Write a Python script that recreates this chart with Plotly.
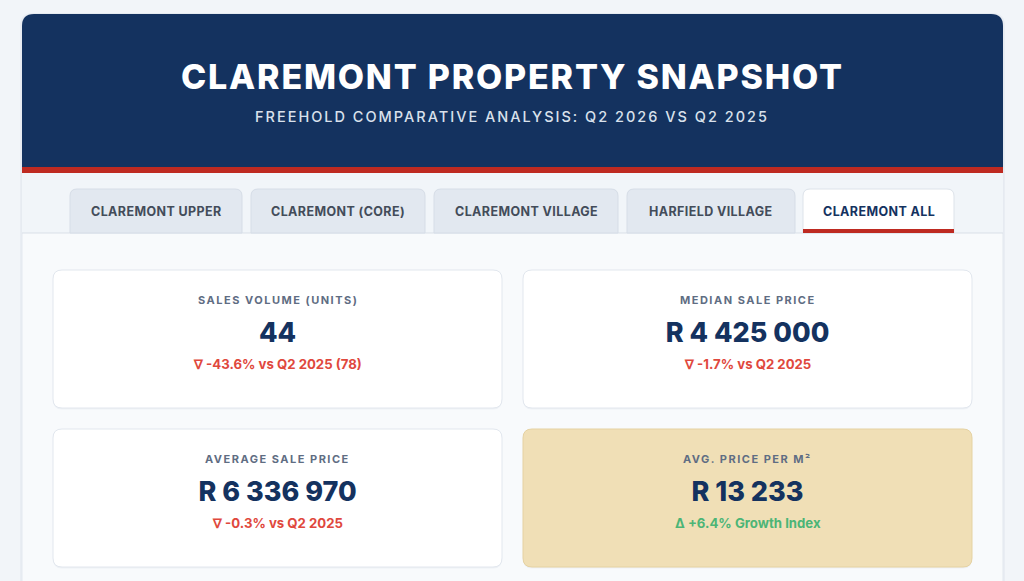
import plotly.graph_objects as go

# --- data ---
title = "CLAREMONT PROPERTY SNAPSHOT"
subtitle = "FREEHOLD COMPARATIVE ANALYSIS: Q2 2026 VS Q2 2025"
tabs = ["CLAREMONT UPPER", "CLAREMONT (CORE)", "CLAREMONT VILLAGE", "HARFIELD VILLAGE", "CLAREMONT ALL"]
active_tab = "CLAREMONT ALL"

kpi_labels = ["SALES VOLUME (UNITS)", "MEDIAN SALE PRICE", "AVERAGE SALE PRICE", "AVG. PRICE PER M²"]
kpi_values = [44, 4425000, 6336970, 13233]
kpi_prefix = ["", "R ", "R ", "R "]
kpi_change_pct = [-43.6, -1.7, -0.3, 6.4]
kpi_change_note = ["vs Q2 2025 (78)", "vs Q2 2025", "vs Q2 2025", "Growth Index"]
kpi_highlight = [False, False, False, True]

# --- layout constants (pixels) ---
W, H = 1024, 581
FONT = "Inter"
NAVY = "#14325f"
RED = "#be2a21"
LABEL = "#5f6d83"
DOWN = "#e0483d"
UP = "#4cb576"

tab_edges = [(70, 242), (251, 425), (434, 618), (627, 795), (803, 954)]
card_boxes = [(53, 270, 502, 408), (523, 270, 972, 408),
              (53, 429, 502, 567), (523, 429, 972, 567)]


def px(x):
    return x / W


def py(y):
    return 1 - y / H


def rounded(x0, y0, x1, y1, r, top_only=False):
    a, b, c, d = px(x0), py(y0), px(x1), py(y1)
    rx, ry = r / W, r / H
    if top_only:
        return (f"M{a},{d} L{a},{b - ry} Q{a},{b} {a + rx},{b} L{c - rx},{b} "
                f"Q{c},{b} {c},{b - ry} L{c},{d} Z")
    return (f"M{a + rx},{b} L{c - rx},{b} Q{c},{b} {c},{b - ry} L{c},{d + ry} "
            f"Q{c},{d} {c - rx},{d} L{a + rx},{d} Q{a},{d} {a},{d + ry} "
            f"L{a},{b - ry} Q{a},{b} {a + rx},{b} Z")


def spaced(text, ls):
    return f'<span style="letter-spacing:{ls}px">{text}</span>'


shapes = []
annotations = []


def add_shape(path, fill, line=None, width=1):
    shapes.append(dict(type="path", path=path, xref="paper", yref="paper",
                       fillcolor=fill, line=dict(color=line or fill, width=width if line else 0),
                       layer="below"))


def add_text(x, y, text, size, color, weight=400, ls=0):
    annotations.append(dict(x=px(x), y=py(y), xref="paper", yref="paper",
                            text=spaced(text, ls) if ls else text, showarrow=False,
                            xanchor="center", yanchor="middle",
                            font=dict(family=FONT, size=size, color=color, weight=weight)))


# outer panel with soft shadow
add_shape(rounded(20, 13, 1005, 600, 13), "#e9edf3")
add_shape(rounded(22, 14, 1003, 600, 12), "#f8fafc", "#e3e8ef")
# header + red rule + tab strip
add_shape(rounded(22, 14, 1003, 167, 12, top_only=True), NAVY)
add_shape(rounded(22, 167, 1003, 173, 0), RED)
add_shape(rounded(22, 173, 1003, 233, 0), "#f1f5f9")
add_shape(rounded(22, 232.5, 1003, 233.5, 0), "#d9dfe7")

add_text(512, 76, title, 34, "white", 800, 1.8)
add_text(512, 117, subtitle, 14.5, "#d9e1ec", 500, 2)

for name, (x0, x1) in zip(tabs, tab_edges):
    is_active = name == active_tab
    if is_active:
        add_shape(rounded(x0, 189, x1, 233, 7, top_only=True), "white", "#dde3ea")
        add_shape(rounded(x0, 229, x1, 233, 0), RED)
    else:
        add_shape(rounded(x0, 189, x1, 233, 7, top_only=True), "#e2e8f0", "#d6dde7")
    add_text((x0 + x1) / 2, 211, name, 12.5, NAVY if is_active else "#434c5a", 700, 0.4)

fig = go.Figure()

for i, (x0, y0, x1, y1) in enumerate(card_boxes):
    fill, border = ("#f0dfb6", "#e5d2a2") if kpi_highlight[i] else ("white", "#e2e7ee")
    add_shape(rounded(x0, y0 + 1, x1, y1 + 1.5, 9), "#eef1f5")
    add_shape(rounded(x0, y0, x1, y1, 9), fill, border)
    cx = (x0 + x1) / 2
    add_text(cx, y0 + 30, kpi_labels[i], 11, LABEL, 700, 1.5)

    pct = kpi_change_pct[i]
    arrow = "∆" if pct > 0 else "∇"
    add_text(cx, y0 + 94, f"{arrow} {pct:+.1f}% {kpi_change_note[i]}", 13.2,
             UP if pct > 0 else DOWN, 700)

    fig.add_trace(go.Indicator(
        mode="number",
        value=kpi_values[i],
        number=dict(prefix=kpi_prefix[i], valueformat=",d",
                    font=dict(family=FONT, size=27, color=NAVY, weight=800)),
        domain=dict(x=[px(x0), px(x1)], y=[py(y0 + 92), py(y0 + 32)]),
    ))

fig.update_layout(
    width=W, height=H,
    margin=dict(l=0, r=0, t=0, b=0),
    paper_bgcolor="#f2f5f9",
    plot_bgcolor="#f2f5f9",
    separators=". ",
    shapes=shapes,
    annotations=annotations,
    showlegend=False,
)

fig.write_html("out.html", config={"displayModeBar": False},
               post_script="document.body.style.margin='0';document.body.style.overflow='hidden';")
